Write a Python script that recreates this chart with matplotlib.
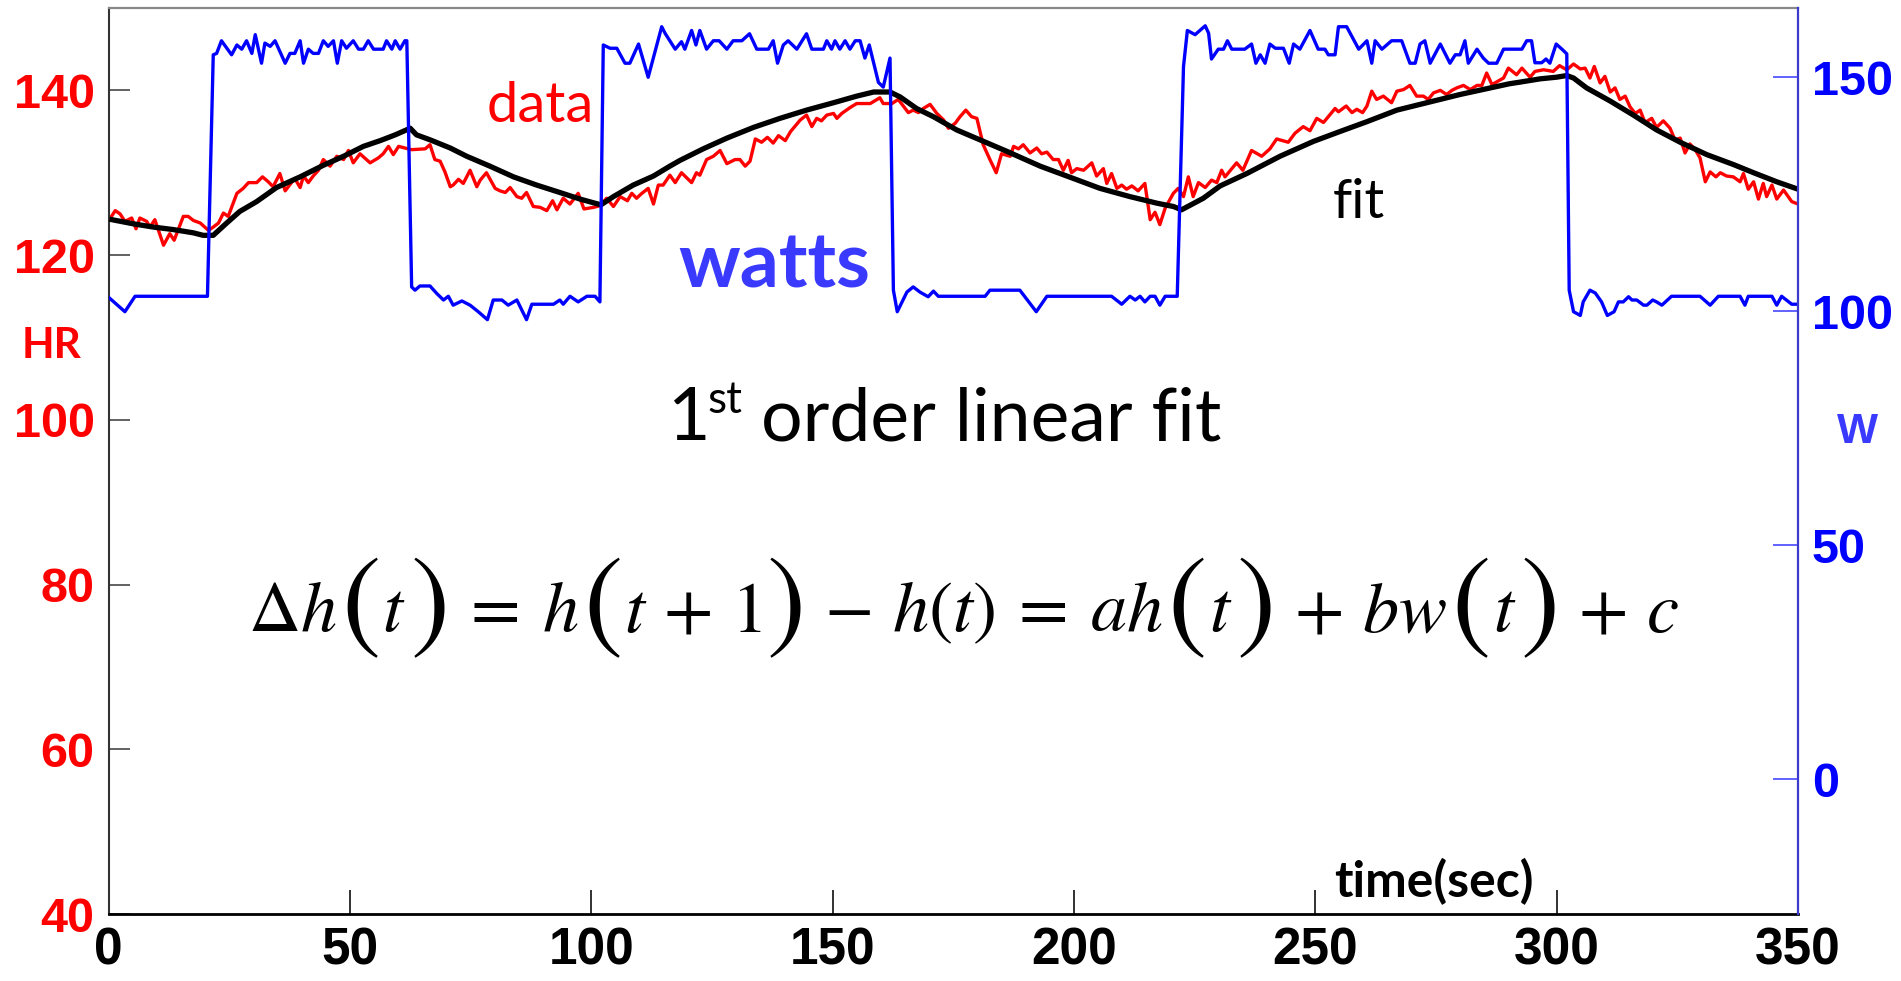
import matplotlib
matplotlib.use('Agg')
import matplotlib.pyplot as plt
from matplotlib.transforms import IdentityTransform

plt.rcParams['mathtext.fontset'] = 'stix'

# heart rate data (bpm)
hr_t = [0.5, 1.4, 2.4, 3.4, 4.8, 5.7, 6.5, 7.9, 8.6, 9.6, 11.4, 12.7, 13.6, 15.5, 16.5, 17.6, 19.0, 20.7,
        21.7, 22.8, 23.8, 24.8, 26.6, 27.9, 29.0, 30.7, 31.9, 33.1, 34.1, 35.5, 36.6, 37.9, 38.6, 39.7,
        40.4, 41.4, 42.4, 43.5, 44.5, 45.9, 47.3, 48.7, 49.7, 50.7, 52.1, 54.2, 55.9, 56.9, 58.0, 59.0,
        60.1, 61.4, 62.8, 65.6, 66.6, 67.6, 68.7, 69.7, 70.8, 71.4, 72.5, 73.5, 74.9, 76.3, 77.0, 78.3,
        80.1, 81.1, 82.2, 83.2, 84.6, 85.6, 86.6, 88.0, 89.4, 90.8, 92.0, 92.9, 94.2, 95.6, 97.3, 98.5,
        100.5, 101.8, 103.2, 104.6, 106.0, 107.5, 108.4, 109.4, 110.3, 111.8, 112.9, 113.9, 114.9, 116.3,
        117.4, 118.7, 120.8, 121.8, 122.5, 123.9, 125.3, 126.7, 128.1, 129.8, 130.8, 131.9, 132.9, 134.0,
        135.3, 136.5, 137.7, 138.8, 140.2, 141.3, 143.3, 144.6, 145.7, 146.7, 147.7, 148.8, 150.2, 150.9,
        151.9, 153.6, 155.0, 157.8, 159.8, 160.5, 162.3, 163.6, 165.7, 166.7, 167.8, 168.8, 170.2, 171.6,
        173.0, 174.0, 175.4, 176.4, 177.6, 178.8, 179.9, 181.2, 182.6, 183.9, 185.0, 186.8, 187.5, 188.5,
        189.5, 190.9, 192.3, 193.3, 194.4, 195.7, 196.8, 197.8, 198.8, 199.5, 200.6, 202.0, 203.7, 204.7,
        206.1, 206.8, 207.8, 208.9, 209.9, 210.9, 212.0, 213.3, 214.7, 215.8, 216.8, 217.8, 218.9, 220.6,
        221.6, 222.7, 223.7, 224.7, 225.8, 227.2, 228.5, 229.6, 230.6, 231.3, 233.7, 235.0, 236.8, 238.9,
        240.6, 242.0, 244.4, 245.8, 247.5, 248.9, 250.3, 251.7, 254.1, 254.8, 256.4, 257.6, 258.6, 259.8,
        260.7, 261.7, 262.7, 264.1, 265.8, 266.9, 268.3, 269.6, 271.0, 272.4, 273.4, 274.5, 275.9, 277.2,
        278.3, 279.3, 280.7, 282.1, 283.5, 284.5, 285.5, 286.6, 289.0, 290.0, 291.7, 292.8, 294.5, 295.5,
        297.3, 299.3, 300.6, 302.1, 303.5, 304.9, 305.9, 306.9, 307.8, 309.0, 310.0, 311.1, 312.1, 313.1,
        314.2, 315.2, 316.3, 317.3, 318.3, 319.7, 320.7, 322.1, 323.5, 324.5, 325.6, 326.6, 327.6, 328.7,
        329.7, 330.8, 331.8, 333.0, 333.9, 335.2, 336.6, 338.0, 338.7, 339.7, 340.8, 341.8, 342.8, 343.5,
        344.6, 345.6, 347.0, 348.7, 350.0]
hr_v = [124.6, 125.4, 125.0, 124.1, 124.5, 123.2, 124.5, 124.1, 123.4, 124.3, 121.2, 122.6, 121.8, 124.7,
        124.7, 124.2, 123.9, 123.0, 123.4, 123.9, 125.1, 124.7, 127.5, 128.1, 128.8, 128.8, 129.5, 128.9,
        128.3, 129.9, 127.8, 128.8, 129.3, 128.2, 129.6, 128.8, 129.6, 130.3, 131.6, 130.8, 132.0, 131.6,
        132.7, 131.2, 132.3, 131.2, 131.8, 132.3, 133.2, 132.2, 133.2, 133.0, 132.8, 132.9, 133.4, 131.6,
        131.4, 130.1, 128.3, 128.5, 129.2, 128.7, 130.3, 128.3, 129.1, 130.0, 128.1, 127.8, 127.6, 128.2,
        127.1, 126.9, 127.6, 125.9, 125.8, 125.4, 126.6, 125.5, 126.9, 126.2, 127.5, 125.6, 125.8, 126.0,
        126.9, 125.9, 127.1, 126.6, 127.5, 126.9, 127.4, 128.1, 126.2, 128.5, 128.5, 129.7, 128.8, 130.0,
        128.8, 130.0, 129.7, 131.6, 132.0, 132.7, 131.1, 131.6, 131.6, 130.8, 131.4, 134.1, 133.7, 134.3,
        133.6, 134.5, 133.9, 135.0, 136.4, 137.0, 135.6, 136.6, 136.3, 137.0, 137.2, 136.6, 137.2, 137.9,
        138.4, 138.4, 139.1, 138.4, 138.4, 138.9, 137.3, 137.6, 137.3, 137.8, 138.3, 137.2, 136.4, 135.4,
        136.0, 136.8, 137.6, 136.8, 136.6, 133.4, 131.6, 130.0, 132.3, 132.0, 133.2, 132.9, 133.4, 132.4,
        133.0, 132.3, 132.5, 131.6, 131.6, 130.3, 131.5, 130.0, 130.5, 130.3, 131.2, 129.6, 130.5, 128.7,
        129.9, 128.1, 128.5, 128.0, 128.4, 127.8, 128.7, 124.3, 125.2, 123.7, 125.7, 127.5, 128.1, 127.1,
        129.5, 127.1, 128.8, 128.2, 129.1, 128.8, 130.3, 129.5, 131.2, 130.3, 132.7, 132.0, 132.9, 134.1,
        133.7, 134.8, 135.6, 135.1, 136.6, 136.1, 137.8, 137.4, 138.1, 137.3, 137.7, 137.3, 138.1, 139.9,
        138.9, 139.3, 138.5, 139.9, 140.1, 140.6, 139.3, 139.3, 138.9, 139.7, 140.0, 139.5, 140.0, 140.3,
        140.6, 140.1, 140.6, 140.6, 142.1, 140.7, 141.5, 142.7, 141.9, 142.7, 141.6, 142.3, 142.5, 142.3,
        143.0, 142.5, 143.2, 142.6, 142.7, 141.5, 142.9, 140.9, 141.7, 139.8, 140.3, 138.9, 139.3, 138.0,
        137.2, 137.6, 136.1, 136.6, 135.5, 136.3, 135.4, 134.0, 134.2, 132.4, 133.5, 132.8, 131.8, 128.9,
        130.1, 129.5, 130.0, 129.6, 129.5, 128.9, 129.9, 128.0, 128.9, 126.8, 128.7, 127.1, 128.5, 126.8,
        127.9, 126.5, 126.2]

# first order linear fit (bpm)
fit_t = [0.7, 5.1, 9.3, 13.4, 17.6, 19.6, 21.7, 24.5, 27.2, 30.7, 34.8, 39.7, 44.5, 48.7, 52.8, 56.3,
         59.4, 62.5, 63.8, 66.6, 70.8, 74.2, 79.0, 83.9, 88.7, 93.5, 97.7, 102.0, 104.6, 108.7, 112.9,
         116.3, 118.4, 123.2, 128.1, 133.6, 139.1, 144.6, 150.2, 155.0, 158.5, 161.9, 164.0, 167.4, 170.9,
         174.2, 175.7, 180.5, 186.1, 193.0, 199.9, 205.4, 211.6, 217.2, 220.6, 222.3, 226.8, 230.3, 235.8,
         242.7, 249.6, 255.1, 260.7, 266.9, 273.1, 280.0, 285.5, 290.2, 292.4, 296.6, 300.0, 302.1, 303.5,
         306.2, 311.1, 315.9, 320.7, 325.6, 331.1, 336.6, 340.8, 345.6, 350.0]
fit_v = [124.3, 123.8, 123.4, 123.1, 122.7, 122.4, 122.4, 123.9, 125.3, 126.5, 128.2, 129.5, 130.9, 132.0,
         133.2, 133.9, 134.6, 135.4, 134.6, 134.0, 133.0, 132.0, 130.8, 129.5, 128.5, 127.6, 126.8, 126.1,
         127.1, 128.5, 129.6, 130.8, 131.5, 132.9, 134.2, 135.5, 136.6, 137.6, 138.5, 139.3, 139.8, 139.8,
         139.2, 137.8, 136.8, 135.7, 135.2, 134.0, 132.6, 130.8, 129.3, 128.1, 127.1, 126.3, 125.9, 125.5,
         126.9, 128.4, 129.9, 132.0, 133.8, 135.0, 136.2, 137.6, 138.5, 139.5, 140.2, 140.8, 141.0, 141.4,
         141.6, 141.8, 141.5, 140.3, 138.7, 137.0, 135.2, 133.7, 132.2, 131.0, 130.0, 128.9, 128.0]

# power (watts), right axis
w_t = [0.0, 3.4, 5.5, 20.5, 21.7, 22.4, 23.4, 25.5, 26.6, 27.6, 28.6, 29.7, 30.4, 31.7, 32.4, 33.5, 34.5,
       36.6, 37.6, 38.6, 39.7, 40.4, 41.4, 42.4, 43.5, 44.5, 45.5, 46.6, 47.4, 48.3, 49.3, 50.7, 51.8, 52.8,
       53.8, 54.9, 56.9, 57.6, 58.7, 59.4, 60.4, 61.4, 61.8, 62.8, 63.5, 64.5, 66.6, 68.0, 69.4, 70.4, 71.4,
       73.2, 74.9, 76.6, 78.5, 79.7, 81.5, 82.8, 84.6, 86.6, 87.7, 92.2, 93.5, 94.2, 95.6, 97.3, 99.1, 100.8,
       101.8, 102.5, 103.9, 105.3, 107.0, 108.0, 109.8, 111.8, 114.6, 115.3, 117.4, 118.7, 119.4, 120.8,
       121.7, 122.5, 123.9, 125.3, 126.5, 128.1, 129.4, 131.2, 132.8, 134.3, 136.7, 137.7, 138.6, 139.8,
       140.8, 142.6, 144.6, 145.7, 148.1, 148.8, 149.8, 150.5, 151.5, 152.6, 153.6, 154.7, 155.7, 156.7,
       157.6, 159.5, 160.5, 161.9, 162.6, 163.4, 165.4, 166.7, 168.1, 169.8, 170.9, 171.9, 181.6, 182.6,
       188.8, 192.2, 194.4, 207.8, 209.9, 211.6, 212.7, 213.7, 214.7, 215.8, 216.8, 217.8, 218.9, 221.4,
       222.7, 223.5, 225.1, 227.2, 227.9, 228.5, 229.9, 231.0, 231.8, 232.7, 235.4, 236.8, 237.7, 238.6,
       239.6, 240.6, 241.7, 243.4, 244.6, 245.5, 246.8, 248.9, 250.6, 252.0, 252.7, 254.1, 254.8, 256.5,
       259.0, 260.7, 261.7, 262.4, 263.8, 265.8, 267.9, 269.6, 270.7, 271.7, 272.7, 273.8, 275.9, 277.9,
       279.0, 280.0, 281.0, 281.7, 283.5, 284.8, 285.9, 287.6, 289.0, 292.8, 293.8, 294.8, 295.5, 296.9,
       297.8, 298.6, 299.9, 301.1, 302.1, 302.6, 303.5, 304.9, 305.5, 306.9, 308.0, 309.3, 310.5, 311.9,
       312.8, 313.8, 314.9, 315.6, 316.6, 318.0, 318.7, 319.9, 320.7, 321.8, 323.8, 329.7, 331.8, 333.5,
       338.0, 339.0, 339.7, 344.6, 345.6, 346.6, 348.7, 350.0]
w_v = [103.0, 99.9, 103.2, 103.2, 154.8, 155.1, 157.8, 154.8, 156.9, 156.0, 157.8, 155.1, 159.1, 153.0,
       157.3, 156.6, 157.8, 153.0, 155.1, 155.1, 157.8, 153.0, 156.0, 155.1, 155.1, 157.8, 156.6, 157.8,
       153.0, 157.8, 156.2, 157.8, 156.0, 156.0, 157.8, 156.0, 156.0, 157.8, 156.0, 157.8, 156.0, 157.8,
       157.8, 105.2, 104.5, 105.4, 105.4, 103.8, 102.4, 103.2, 101.3, 102.2, 101.3, 99.9, 98.2, 102.4,
       102.4, 101.3, 102.4, 98.2, 101.5, 101.5, 102.4, 101.5, 103.2, 102.0, 103.2, 103.2, 102.0, 156.9,
       156.2, 156.2, 153.0, 153.0, 157.1, 150.0, 160.8, 159.4, 156.0, 157.6, 156.0, 160.0, 156.9, 160.0,
       156.0, 157.8, 157.8, 156.0, 157.8, 157.8, 159.3, 156.0, 156.0, 157.8, 153.0, 156.9, 157.8, 156.0,
       159.3, 156.0, 156.0, 157.8, 156.0, 157.8, 156.0, 157.8, 156.0, 157.8, 157.8, 154.1, 156.9, 148.9,
       147.9, 154.1, 104.5, 99.9, 104.1, 105.2, 104.1, 103.1, 104.3, 103.2, 103.2, 104.5, 104.5, 99.9,
       103.2, 103.2, 101.5, 103.2, 102.4, 103.2, 102.0, 103.2, 103.2, 101.3, 103.2, 103.2, 152.3, 160.0,
       159.1, 161.0, 159.4, 153.9, 156.0, 156.0, 157.8, 156.0, 156.0, 157.1, 153.0, 154.8, 153.0, 157.1,
       156.2, 156.2, 153.0, 157.1, 156.0, 160.0, 156.0, 156.0, 154.8, 154.8, 160.8, 160.8, 156.0, 157.8,
       153.0, 157.8, 156.0, 157.8, 157.8, 153.0, 153.0, 157.1, 157.8, 153.0, 157.1, 153.0, 154.8, 154.8,
       157.8, 153.0, 156.0, 154.1, 153.0, 153.0, 156.0, 156.0, 157.8, 157.8, 153.1, 153.1, 153.9, 153.0,
       157.1, 156.0, 155.0, 104.5, 99.9, 99.1, 102.0, 104.5, 103.9, 102.0, 99.1, 99.9, 102.0, 102.0,
       103.1, 102.4, 102.4, 101.3, 101.3, 102.4, 102.0, 101.3, 103.2, 103.2, 101.3, 103.2, 103.2, 101.3,
       103.2, 103.2, 101.3, 103.2, 101.5, 101.5]

x_ticks = [0, 50, 100, 150, 200, 250, 300, 350]
hr_ticks = [40, 60, 80, 100, 120, 140]
w_ticks = [0, 50, 100, 150]

W_PX, H_PX = 1901, 981
fig = plt.figure(figsize=(W_PX / 100, H_PX / 100), dpi=100)
ax = fig.add_axes([108.5 / W_PX, 1 - 914 / H_PX, (1798 - 108.5) / W_PX, (914 - 8) / H_PX])
ax2 = ax.twinx()

ax.plot(hr_t, hr_v, color='#ff0000', lw=2.4, zorder=2)
ax.plot(fit_t, fit_v, color='black', lw=3.8, zorder=3)
ax2.plot(w_t, w_v, color='#0000ff', lw=2.4)

ax.set_xlim(0, 350)
ax.set_ylim(40, 150)
ax2.set_ylim(-28.8, 164.8)

tick_font = dict(family='Liberation Sans', fontweight='bold')
ax.set_xticks(x_ticks)
ax.set_xticklabels([str(v) for v in x_ticks], fontsize=37, color='black', **tick_font)
ax.set_yticks(hr_ticks)
ax.set_yticklabels([str(v) for v in hr_ticks], fontsize=35, color='#ff0000', **tick_font)
ax2.set_yticks(w_ticks)
ax2.set_yticklabels([str(v) for v in w_ticks], fontsize=35, color='#0000ff', **tick_font)

ax.tick_params(axis='x', direction='in', length=17, width=1.3, color='#222222', pad=9, top=False)
ax.tick_params(axis='y', direction='in', length=15, width=1.3, color='#555555', pad=10, right=False)
ax2.tick_params(axis='y', direction='in', length=18, width=1.3, color='#5555ff', pad=10)

ax.spines['top'].set_color('#888888')
ax.spines['top'].set_linewidth(1.6)
ax.spines['left'].set_color('#333333')
ax.spines['left'].set_linewidth(1.5)
ax.spines['bottom'].set_color('black')
ax.spines['bottom'].set_linewidth(2)
ax.spines['right'].set_visible(False)
for side in ['left', 'top', 'bottom']:
    ax2.spines[side].set_visible(False)
ax2.spines['right'].set_color('#3a3acc')
ax2.spines['right'].set_linewidth(1.6)

renderer = fig.canvas.get_renderer()


def fit_width(t, target):
    w = t.get_window_extent(renderer).width
    t.set_fontsize(t.get_fontsize() * target / w)


# in-plot annotations
t_data = ax.text(89.4, 136.1, 'data', color='#ff0000', family='Lato', fontsize=40,
                 ha='center', va='baseline')
fit_width(t_data, 107)
t_watts = ax.text(137.9, 116.1, 'watts', color='#3a3aff', family='Lato', fontweight='bold',
                  fontsize=54, ha='center', va='baseline')
fit_width(t_watts, 192)
t_fit = ax.text(259.1, 124.5, 'fit', color='black', family='Lato', fontsize=40,
                ha='center', va='baseline')
fit_width(t_fit, 52)
t_time = ax.text(274.6, 42.1, 'time(sec)', color='black', family='Lato', fontweight='bold',
                 fontsize=34, ha='center', va='baseline')
fit_width(t_time, 200)

t_order = ax.text(135.2, 97.5, 'order linear fit', color='black', family='Lato', fontsize=45,
                  ha='left', va='baseline')
fit_width(t_order, 461)
fs = t_order.get_fontsize()
ax.text(115.7, 97.5, '1', color='black', family='Lato', fontsize=fs, ha='left', va='baseline')
ax.text(124.0, 100.8, 'st', color='black', family='Lato', fontsize=fs * 0.6, ha='left', va='baseline')

# axis titles
t_hr = fig.text(52 / W_PX, 1 - 346 / H_PX, 'HR', color='#ff0000', family='Lato', fontweight='bold',
                fontsize=31, ha='center', va='center')
fit_width(t_hr, 60)
t_w = fig.text(1857 / W_PX, 1 - 432 / H_PX, 'W', color='#3a3aff', family='Liberation Sans',
               fontweight='bold', fontsize=33, ha='center', va='center')
fit_width(t_w, 41)

# equation, with large parentheses around single arguments
eq_pieces = [(r'$\Delta h$', False), ('(', True), (r'$t$', False), (')', True),
             (r'$\:=\:h$', False), ('(', True), (r'$t\,+\,1$', False), (')', True),
             (r'$\,-\,h(t)\:=\:ah$', False), ('(', True), (r'$t$', False), (')', True),
             (r'$\,+\,bw$', False), ('(', True), (r'$t$', False), (')', True), (r'$\,+\,c$', False)]


def math_row(pieces, cx, base_y, size, big_size, gap):
    ref = fig.text(0, base_y, r'$($', fontsize=size, transform=IdentityTransform(), va='baseline')
    bb = ref.get_window_extent(renderer)
    mid = (bb.y0 + bb.y1) / 2 + 0.1 * size * 100 / 72
    ref.remove()
    arts = []
    x = 0
    for s, big in pieces:
        if big:
            t = fig.text(x, mid, '$%s$' % s, fontsize=big_size, va='center', ha='left',
                         transform=IdentityTransform())
        else:
            t = fig.text(x, base_y, s, fontsize=size, va='baseline', ha='left',
                         transform=IdentityTransform())
        arts.append((t, x))
        x += t.get_window_extent(renderer).width + gap
    total = x - gap
    for t, xx in arts:
        t.set_x(cx - total / 2 + xx)
    return arts, total


eq_size, eq_big = 54, 88
arts, total = math_row(eq_pieces, 964, H_PX - 631, eq_size, eq_big, 4)
k = 1430 / total
for t, _ in arts:
    t.remove()
math_row(eq_pieces, 964, H_PX - 631, eq_size * k, eq_big * k, 4 * k)

fig.savefig('out.png', dpi=100)
